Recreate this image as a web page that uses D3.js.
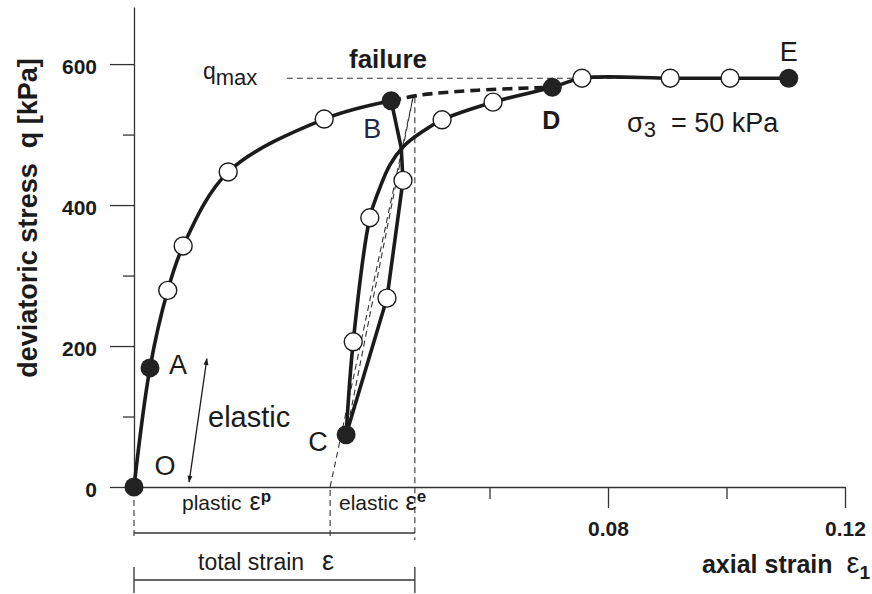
<!DOCTYPE html>
<html>
<head>
<meta charset="utf-8">
<script src="https://cdn.jsdelivr.net/npm/d3@7"></script>
<style>
body { margin: 0; background: #fff; }
text { font-family: "Liberation Sans", Arial, Helvetica, sans-serif; fill: #1b1b1b; }
.axis path, .axis line { stroke: #333; stroke-width: 1.3; }
</style>
</head>
<body>
<div id="chart-area"></div>
<script>
// values: [axial strain, deviatoric stress q in kPa]
var loadingCurve = [[0, 0], [0.0027, 169], [0.0057, 279], [0.0083, 342], [0.0159, 447], [0.0321, 522], [0.0434, 548]];
var unloadingCurve = [[0.0434, 548], [0.0451, 481], [0.0454, 435], [0.0427, 268], [0.0358, 74]];
var reloadingCurve = [[0.0358, 74], [0.0370, 206], [0.0398, 382], [0.0412, 418], [0.0432, 457], [0.0456, 484],
    [0.0483, 502], [0.0520, 521], [0.0606, 546], [0.0706, 567], [0.0756, 580], [0.0905, 580], [0.1006, 580], [0.1105, 580]];
var failureCurve = [[0.0434, 548], [0.0483, 556], [0.0580, 563], [0.0706, 567]];

// measured points: open circles
var openPoints = [[0.0057, 279], [0.0083, 342], [0.0159, 447], [0.0321, 522],
    [0.0454, 435], [0.0427, 268], [0.0370, 206], [0.0398, 382],
    [0.0520, 521], [0.0606, 546], [0.0756, 580], [0.0905, 580], [0.1006, 580]];
// named states: filled circles
var statePoints = [
    { name: "O", e: 0, q: 0 },
    { name: "A", e: 0.0027, q: 169 },
    { name: "B", e: 0.0434, q: 548 },
    { name: "C", e: 0.0358, q: 74 },
    { name: "D", e: 0.0706, q: 567 },
    { name: "E", e: 0.1105, q: 580 }
];

var qMax = 580;
var plasticStrain = 0.0331;
var totalStrain = 0.0474;
var secantTop = [0.0471, 553];

var strainTicks = [0.06, 0.08, 0.10, 0.12];
var strainLabels = [0.08, 0.12];
var stressTicks = [0, 100, 200, 300, 400, 500, 600];
var stressLabels = [0, 200, 400, 600];

// drawing area
var chartWidth = 872, chartHeight = 594;
var margin = { top: 7, right: 27, bottom: 107, left: 134 };
var width = chartWidth - margin.left - margin.right,
    height = chartHeight - margin.top - margin.bottom;

var svg = d3.select("#chart-area").append("svg")
    .attr("width", chartWidth)
    .attr("height", chartHeight)
    .append("g")
    .attr("transform", "translate(" + margin.left + "," + margin.top + ")");

var x = d3.scaleLinear().domain([0, 0.12]).range([0, width]);
var y = d3.scaleLinear().domain([0, 681]).range([height, 0]);

var defs = svg.append("defs");
defs.append("marker")
    .attr("id", "arrow")
    .attr("viewBox", "0 0 10 10")
    .attr("refX", 9).attr("refY", 5)
    .attr("markerWidth", 11).attr("markerHeight", 7)
    .attr("markerUnits", "userSpaceOnUse")
    .attr("orient", "auto-start-reverse")
    .append("path")
    .attr("d", "M0,1.5 L10,5 L0,8.5 Z")
    .attr("fill", "#1b1b1b");

// axes
var xAxis = d3.axisBottom(x)
    .tickValues(strainTicks)
    .tickSize(21)
    .tickSizeOuter(0)
    .tickFormat(d => strainLabels.includes(d) ? d3.format(".2f")(d) : "");

var xAxisGroup = svg.append("g")
    .attr("class", "x-axis axis")
    .attr("transform", "translate(0," + height + ")")
    .call(xAxis);
xAxisGroup.selectAll(".tick line")
    .attr("y2", d => strainLabels.includes(d) ? 21 : 12);
xAxisGroup.selectAll(".tick text")
    .attr("y", 42).attr("dy", "0.35em")
    .style("font-size", "21px").style("font-weight", "bold");

var yAxis = d3.axisLeft(y)
    .tickValues(stressTicks)
    .tickSize(24)
    .tickSizeOuter(0)
    .tickFormat(d => stressLabels.includes(d) ? d : "");

var yAxisGroup = svg.append("g")
    .attr("class", "y-axis axis")
    .call(yAxis);
yAxisGroup.selectAll(".tick line")
    .attr("x2", d => stressLabels.includes(d) ? -24 : -11);
yAxisGroup.selectAll(".tick text")
    .attr("x", -37).attr("dy", "0.45em")
    .style("font-size", "21px").style("font-weight", "bold");
svg.selectAll(".axis text").style("fill", "#1b1b1b");

// axis titles
svg.append("text")
    .attr("transform", "translate(-97,211) rotate(-90)")
    .attr("text-anchor", "middle")
    .style("font-size", "27px").style("font-weight", "bold")
    .attr("xml:space", "preserve")
    .text("deviatoric stress  q [kPa]");

var xTitle = svg.append("text")
    .attr("x", width + 25)
    .attr("y", height + 86)
    .attr("text-anchor", "end")
    .attr("xml:space", "preserve")
    .style("font-size", "25px").style("font-weight", "bold");
xTitle.append("tspan").text("axial strain  ");
xTitle.append("tspan").style("font-weight", "normal").style("font-size", "29px").text("ε");
xTitle.append("tspan").attr("dy", 6).style("font-size", "19px").text("1");

// thin dashed helper lines
var thinDash = function(sel) {
    return sel.attr("fill", "none").attr("stroke", "#333")
        .attr("stroke-width", 1.1).attr("stroke-dasharray", "6,4");
};
var straight = d3.line().x(d => x(d[0])).y(d => y(d[1]));

svg.append("path").call(thinDash)
    .attr("d", straight([[0.0258, qMax], [0.1105, qMax]]));
svg.append("path").call(thinDash)
    .attr("d", straight([[plasticStrain, 0], secantTop]));
svg.append("path").call(thinDash)
    .attr("d", straight([[statePoints[3].e, statePoints[3].q], secantTop]));
svg.append("line").call(thinDash)
    .attr("x1", x(totalStrain)).attr("x2", x(totalStrain))
    .attr("y1", y(secantTop[1])).attr("y2", height + 53);
svg.append("line").call(thinDash)
    .attr("x1", x(0)).attr("x2", x(0))
    .attr("y1", height + 3).attr("y2", height + 53);
svg.append("line").call(thinDash)
    .attr("x1", x(plasticStrain)).attr("x2", x(plasticStrain))
    .attr("y1", height + 3).attr("y2", height + 53);

// strain brackets below the axis
svg.append("line")
    .attr("x1", x(0)).attr("x2", x(totalStrain))
    .attr("y1", height + 46).attr("y2", height + 46)
    .attr("stroke", "#333").attr("stroke-width", 1.3);
svg.append("line")
    .attr("x1", x(0)).attr("x2", x(totalStrain))
    .attr("y1", height + 93).attr("y2", height + 93)
    .attr("stroke", "#333").attr("stroke-width", 1.3);
svg.selectAll(".bracket-end")
    .data([0, totalStrain])
    .enter().append("line")
    .attr("class", "bracket-end")
    .attr("x1", d => x(d)).attr("x2", d => x(d))
    .attr("y1", height + 80).attr("y2", height + 106)
    .attr("stroke", "#333").attr("stroke-width", 1.3);

// curves
var smooth = d3.line().curve(d3.curveCatmullRom.alpha(0.5)).x(d => x(d[0])).y(d => y(d[1]));

svg.append("path")
    .attr("d", smooth(failureCurve))
    .attr("fill", "none").attr("stroke", "#1b1b1b")
    .attr("stroke-width", 3.6).attr("stroke-dasharray", "10,6");

[loadingCurve, reloadingCurve].forEach(function(c) {
    svg.append("path")
        .attr("d", smooth(c))
        .attr("fill", "none").attr("stroke", "#1b1b1b")
        .attr("stroke-width", 3.6).attr("stroke-linejoin", "round");
});
svg.append("path")
    .attr("d", straight(unloadingCurve))
    .attr("fill", "none").attr("stroke", "#1b1b1b")
    .attr("stroke-width", 3.6).attr("stroke-linejoin", "round");

// elastic arrow
svg.append("line")
    .attr("x1", x(0.0123)).attr("y1", y(182))
    .attr("x2", x(0.0093)).attr("y2", y(7))
    .attr("stroke", "#1b1b1b").attr("stroke-width", 1.3)
    .attr("marker-start", "url(#arrow)")
    .attr("marker-end", "url(#arrow)");

// markers
svg.selectAll(".open-dot")
    .data(openPoints)
    .enter().append("circle")
    .attr("class", "open-dot")
    .attr("cx", d => x(d[0])).attr("cy", d => y(d[1]))
    .attr("r", 9)
    .attr("fill", "#fff").attr("stroke", "#1b1b1b").attr("stroke-width", 1.4);

svg.selectAll(".state-dot")
    .data(statePoints)
    .enter().append("circle")
    .attr("class", "state-dot")
    .attr("cx", d => x(d.e)).attr("cy", d => y(d.q))
    .attr("r", 9.5)
    .attr("fill", "#222");

// state labels
var labelOffset = { O: [31, -22], A: [28, -4], B: [-19, 28], C: [-28, 6], D: [-1, 33], E: [0, -27] };
svg.selectAll(".state-label")
    .data(statePoints)
    .enter().append("text")
    .attr("class", "state-label")
    .attr("x", d => x(d.e) + labelOffset[d.name][0])
    .attr("y", d => y(d.q) + labelOffset[d.name][1])
    .attr("text-anchor", "middle").attr("dy", "0.36em")
    .style("font-size", d => d.name === "D" ? "25px" : "27px")
    .style("font-weight", d => d.name === "D" ? "bold" : "normal")
    .style("fill", d => d.name === "B" ? "#26264a" : null)
    .text(d => d.name);

// annotations
svg.append("text")
    .attr("x", 254).attr("y", y(qMax) - 10)
    .attr("text-anchor", "middle")
    .style("font-size", "26px").style("font-weight", "bold")
    .text("failure");

var qmaxLabel = svg.append("text")
    .attr("x", 69).attr("y", y(qMax) + 1)
    .style("font-size", "23px");
qmaxLabel.append("tspan").text("q");
qmaxLabel.append("tspan").attr("dy", 6).style("font-size", "22px").text("max");

var sigma = svg.append("text")
    .attr("x", 493).attr("y", 125)
    .attr("xml:space", "preserve")
    .style("font-size", "27px");
sigma.append("tspan").text("σ");
sigma.append("tspan").attr("dy", 5).style("font-size", "22px").text("3");
sigma.append("tspan").attr("dy", -5).text("  = 50 kPa");

svg.append("text")
    .attr("x", 74).attr("y", 420)
    .style("font-size", "29px")
    .text("elastic");

var plasticLabel = svg.append("text")
    .attr("x", 48).attr("y", 503)
    .style("font-size", "21px");
plasticLabel.append("tspan").text("plastic");
plasticLabel.append("tspan").attr("dx", 8).style("font-size", "25px").text("ε");
plasticLabel.append("tspan").attr("dy", -8).style("font-size", "17px").style("font-weight", "bold").text("p");

var elasticLabel = svg.append("text")
    .attr("x", 205).attr("y", 503)
    .style("font-size", "21px");
elasticLabel.append("tspan").text("elastic");
elasticLabel.append("tspan").attr("dx", 7).style("font-size", "25px").text("ε");
elasticLabel.append("tspan").attr("dy", -8).style("font-size", "17px").style("font-weight", "bold").text("e");

var totalLabel = svg.append("text")
    .attr("x", 64).attr("y", 563)
    .style("font-size", "23px");
totalLabel.append("tspan").text("total strain");
totalLabel.append("tspan").attr("dx", 18).style("font-size", "27px").text("ε");
</script>
</body>
</html>
